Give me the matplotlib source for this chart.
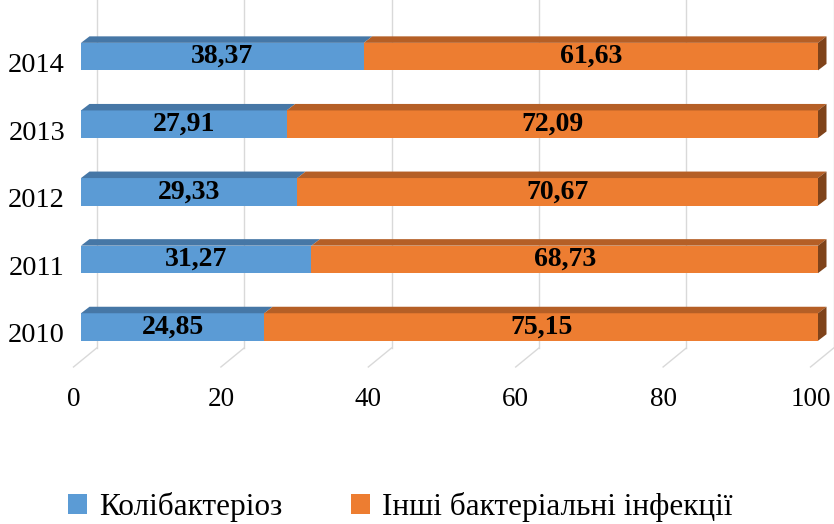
import matplotlib.pyplot as plt
from matplotlib.patches import Polygon, Patch

plt.rcParams['font.family'] = ['Liberation Serif', 'DejaVu Serif']

# data
years = ['2010', '2011', '2012', '2013', '2014']
coli = [24.85, 31.27, 29.33, 27.91, 38.37]
other = [75.15, 68.73, 70.67, 72.09, 61.63]
series_names = ['Колібактеріоз', 'Інші бактеріальні інфекції']
xticks = [0, 20, 40, 60, 80, 100]

# colours: front, top, side
blue = ('#5B9BD5', '#4677A6', '#3A6690')
orange = ('#ED7D31', '#B55F26', '#7F431A')

W, H = 834, 524
fig = plt.figure(figsize=(W / 100, H / 100), dpi=100)
ax = fig.add_axes([0, 0, 1, 1])

# pixel geometry of the reference, turned into data units
px_x = 7.37       # pixels per percent
px_y = 67.6       # pixels per category
x0_px, y0_px = 81, 327   # value 0 / category 0 on the front face
ax.set_xlim(-x0_px / px_x, (W - x0_px) / px_x)
ax.set_ylim((y0_px - H) / px_y, y0_px / px_y)
ax.axis('off')

bar_h = 27.5 / px_y
dx = 8.5 / px_x      # depth of the bars
dy = 6.5 / px_y
back_dx = 15.7 / px_x
floor_y_back = (y0_px - 348) / px_y
floor_y_front = (y0_px - 367) / px_y
floor_dx = -7.5 / px_x
grid_c = '#d9d9d9'

# back wall gridlines and floor lines
for v in xticks:
    ax.plot([v + back_dx, v + back_dx], [floor_y_back, y0_px / px_y],
            color=grid_c, lw=1, zorder=0)
    ax.plot([v + back_dx, v + floor_dx], [floor_y_back, floor_y_front],
            color=grid_c, lw=1, zorder=0)
    ax.text(v + floor_dx, (y0_px - 397) / px_y, str(v), ha='center',
            va='center_baseline', fontsize=19.5)

# bars
for i, (a, b) in enumerate(zip(coli, other)):
    top = i + bar_h / 2
    segs = [(0, a, blue), (a, a + b, orange)]
    for left, right, cols in segs:
        ax.barh(i, right - left, left=left, height=bar_h, color=cols[0], zorder=3)
        ax.add_patch(Polygon([(left, top), (right, top), (right + dx, top + dy),
                              (left + dx, top + dy)], closed=True,
                             facecolor=cols[1], edgecolor='none', zorder=3))
    end = a + b
    ax.add_patch(Polygon([(end, top), (end + dx, top + dy),
                          (end + dx, top + dy - bar_h), (end, top - bar_h)],
                         closed=True, facecolor=orange[2], edgecolor='none', zorder=3))
    ax.text(a / 2, i, f'{a:.2f}'.replace('.', ','), ha='center', va='center',
            fontsize=20, fontweight='bold', zorder=4)
    ax.text(a + b / 2, i, f'{b:.2f}'.replace('.', ','), ha='center', va='center',
            fontsize=20, fontweight='bold', zorder=4)
    ax.text((65 - x0_px) / px_x, i - 6 / px_y, years[i], ha='right',
            va='center_baseline', fontsize=20.5)

handles = [Patch(facecolor=blue[0]), Patch(facecolor=orange[0])]
fig.legend(handles, series_names, loc='center', bbox_to_anchor=(400 / W, 1 - 507 / H),
           ncol=2, frameon=False, fontsize=22.5, handlelength=0.62, handleheight=0.62,
           handletextpad=0.38, columnspacing=2.2)

plt.savefig('out.png', dpi=100)
